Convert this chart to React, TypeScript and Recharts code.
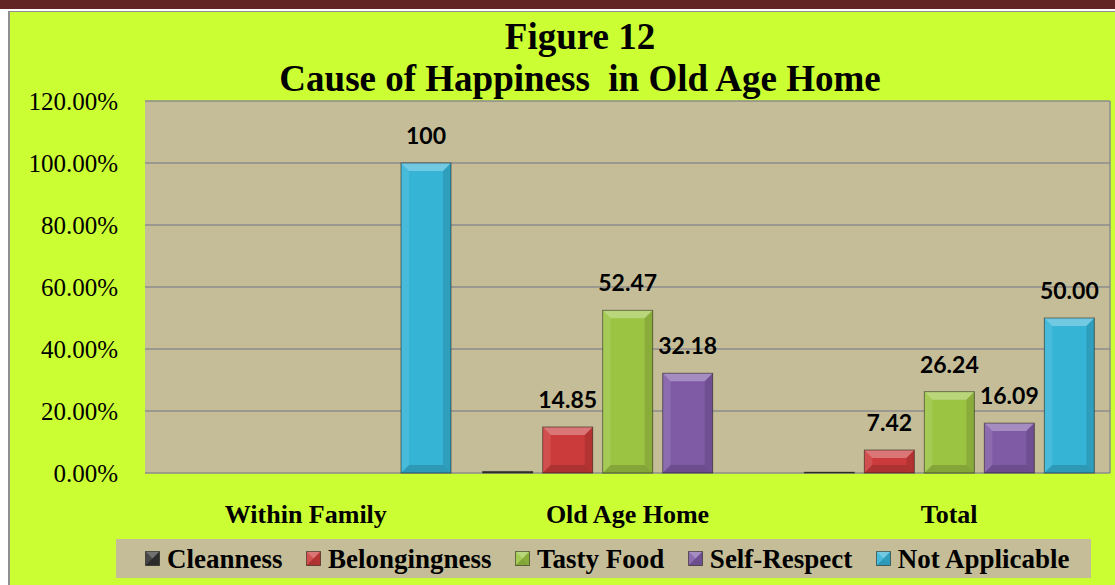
import { BarChart, Bar, XAxis, YAxis, CartesianGrid, LabelList } from 'recharts';

const categories = ['Within Family', 'Old Age Home', 'Total'];
const cleanness = [0, 0.5, 0.25];
const belongingness = [0, 14.85, 7.42];
const tastyFood = [0, 52.47, 26.24];
const selfRespect = [0, 32.18, 16.09];
const notApplicable = [100, 0, 50];

const belongingnessLabels = ['', '14.85', '7.42'];
const tastyFoodLabels = ['', '52.47', '26.24'];
const selfRespectLabels = ['', '32.18', '16.09'];
const notApplicableLabels = ['100', '', '50.00'];

const yTicks = [0, 20, 40, 60, 80, 100, 120];

const seriesNames = ['Cleanness', 'Belongingness', 'Tasty Food', 'Self-Respect', 'Not Applicable'];

const data = categories.map((name, i) => ({
  name,
  cleanness: cleanness[i],
  belongingness: belongingness[i],
  tastyFood: tastyFood[i],
  selfRespect: selfRespect[i],
  notApplicable: notApplicable[i],
  belongingnessLabel: belongingnessLabels[i],
  tastyFoodLabel: tastyFoodLabels[i],
  selfRespectLabel: selfRespectLabels[i],
  notApplicableLabel: notApplicableLabels[i],
}));

const colors = ['#333333', '#CC3B3B', '#9CC443', '#7F5BA6', '#35B4D6'];
const serif = '"Liberation Serif", "Times New Roman", serif';

// bar with the office-style bevel look
function BevelBar(props: any) {
  const { x, y, width, height, fill } = props;
  if (!height || height <= 0) return null;
  const b = Math.min(8, height / 2, width / 2);
  return (
    <g>
      <rect x={x} y={y} width={width} height={height} fill={fill} />
      <polygon points={`${x},${y} ${x + width},${y} ${x + width - b},${y + b} ${x + b},${y + b}`} fill="#fff" fillOpacity={0.3} />
      <polygon points={`${x},${y} ${x + b},${y + b} ${x + b},${y + height - b} ${x},${y + height}`} fill="#fff" fillOpacity={0.1} />
      <polygon points={`${x + width},${y} ${x + width},${y + height} ${x + width - b},${y + height - b} ${x + width - b},${y + b}`} fill="#000" fillOpacity={0.12} />
      <polygon points={`${x},${y + height} ${x + width},${y + height} ${x + width - b},${y + height - b} ${x + b},${y + height - b}`} fill="#000" fillOpacity={0.15} />
      <rect x={x} y={y} width={width} height={height} fill="none" stroke="#000" strokeOpacity={0.45} strokeWidth={1} />
    </g>
  );
}

function ValueLabel(props: any) {
  const { x, y, width, value } = props;
  if (!value) return null;
  return (
    <text x={x + width / 2} y={y - 19} textAnchor="middle" fontFamily="Lato, sans-serif" fontWeight={700} fontSize={23} fill="#000">
      {value}
    </text>
  );
}

function Marker({ color }: { color: string }) {
  return (
    <svg width={15} height={15} style={{ display: 'block', flexShrink: 0 }}>
      <BevelBar x={0.5} y={0.5} width={14} height={14} fill={color} />
    </svg>
  );
}

export default function App() {
  return (
    <div style={{ position: 'relative', width: 1115, height: 585, background: '#fff', overflow: 'hidden' }}>
      <style>{`body{margin:0}`}</style>
      <div style={{ position: 'absolute', left: 0, top: 0, width: 1115, height: 9, background: '#632523' }} />
      <div style={{ position: 'absolute', left: 8, top: 11, width: 1115, height: 585, background: '#CCFF33', borderLeft: '2px solid #8f8f8f', borderTop: '1px solid #8f8f8f' }} />
      <div style={{ position: 'absolute', left: 0, width: 1160, top: 16, textAlign: 'center', fontFamily: serif, fontWeight: 700, fontSize: 37, lineHeight: '42px', whiteSpace: 'pre', color: '#000' }}>
        {'Figure 12\nCause of Happiness  in Old Age Home'}
      </div>
      <div style={{ position: 'absolute', left: 10, top: 12 }}>
        <BarChart width={1105} height={573} data={data} margin={{ top: 89, right: 5, bottom: 52, left: 0 }} barCategoryGap={16} barGap={10}>
          <CartesianGrid
            fill="#C4BD97"
            stroke="#8c8c8c"
            strokeWidth={1.5}
            verticalCoordinatesGenerator={({ offset }: any) => [offset.left + offset.width]}
          />
          <XAxis
            dataKey="name"
            axisLine={false}
            tickLine={false}
            tickSize={0}
            tickMargin={32}
            height={60}
            tick={{ fontFamily: serif, fontWeight: 700, fontSize: 26, fill: '#000' }}
          />
          <YAxis
            domain={[0, 120]}
            ticks={yTicks}
            width={135}
            axisLine={false}
            tickLine={false}
            tickSize={0}
            tickMargin={27}
            tickFormatter={(v: number) => `${v.toFixed(2)}%`}
            tick={{ fontFamily: serif, fontSize: 25, fill: '#000' }}
          />
          <Bar dataKey="cleanness" fill={colors[0]} shape={<BevelBar />} isAnimationActive={false} />
          <Bar dataKey="belongingness" fill={colors[1]} shape={<BevelBar />} isAnimationActive={false}>
            <LabelList dataKey="belongingnessLabel" content={<ValueLabel />} />
          </Bar>
          <Bar dataKey="tastyFood" fill={colors[2]} shape={<BevelBar />} isAnimationActive={false}>
            <LabelList dataKey="tastyFoodLabel" content={<ValueLabel />} />
          </Bar>
          <Bar dataKey="selfRespect" fill={colors[3]} shape={<BevelBar />} isAnimationActive={false}>
            <LabelList dataKey="selfRespectLabel" content={<ValueLabel />} />
          </Bar>
          <Bar dataKey="notApplicable" fill={colors[4]} shape={<BevelBar />} isAnimationActive={false}>
            <LabelList dataKey="notApplicableLabel" content={<ValueLabel />} />
          </Bar>
        </BarChart>
      </div>
      <div style={{ position: 'absolute', left: 116, top: 539, width: 975, height: 39, background: '#C4BD97', display: 'flex', alignItems: 'center', paddingLeft: 29, boxSizing: 'border-box', whiteSpace: 'nowrap' }}>
        {seriesNames.map((name, i) => (
          <div key={name} style={{ display: 'flex', alignItems: 'center', marginRight: 23.5, flexShrink: 0 }}>
            <Marker color={colors[i]} />
            <span style={{ marginLeft: 7, fontFamily: serif, fontWeight: 700, fontSize: 27, color: '#000', lineHeight: '30px', whiteSpace: 'nowrap' }}>{name}</span>
          </div>
        ))}
      </div>
    </div>
  );
}
